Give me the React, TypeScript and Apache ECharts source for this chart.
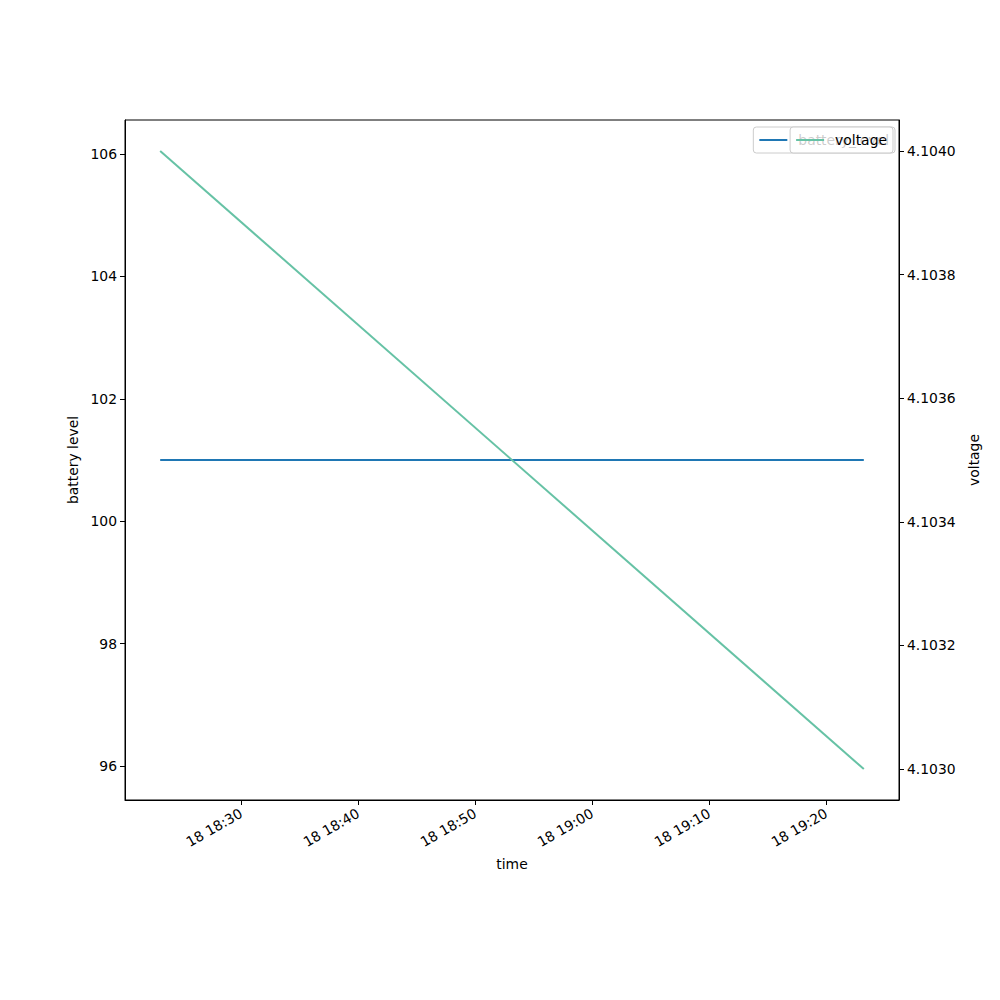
import React, { useEffect, useRef } from "react";
import * as echarts from "echarts";

// sample times (UTC, the day shows as "18")
const timeStamps = ["2024-01-18T18:23:05Z", "2024-01-18T19:23:13Z"];
const batteryLevel = [101, 101];
const voltage = [4.104, 4.103];

const xTickTimes = ["18:30", "18:40", "18:50", "19:00", "19:10", "19:20"];
const batteryTicks = [96, 98, 100, 102, 104, 106];
const voltageTicks = [4.103, 4.1032, 4.1034, 4.1036, 4.1038, 4.104];

const BLUE = "#1f77b4";
const GREEN = "#66c2a5";
const FONT = "DejaVu Sans";

// matplotlib-like 5% padding around the data range
const padRange = (vals: number[]) => {
  let lo = Math.min(...vals);
  let hi = Math.max(...vals);
  if (lo === hi) {
    lo -= Math.abs(lo) * 0.05;
    hi += Math.abs(hi) * 0.05;
  }
  const m = (hi - lo) * 0.05;
  return [lo - m, hi + m];
};

const pad2 = (n: number) => String(n).padStart(2, "0");

const App: React.FC = () => {
  const chartRef = useRef<HTMLDivElement | null>(null);

  useEffect(() => {
    if (!chartRef.current) return;
    const chart = echarts.init(chartRef.current, undefined, { renderer: "svg" });

    const times = timeStamps.map((t) => Date.parse(t));
    const [xMin, xMax] = padRange(times);
    const [bMin, bMax] = padRange(batteryLevel);
    const [vMin, vMax] = padRange(voltage);
    const xTicks = xTickTimes.map((hm) => Date.parse(`2024-01-18T${hm}:00Z`));

    const tickLabel = { color: "#000", fontFamily: FONT, fontSize: 13.9 };
    const axisName = { color: "#000", fontFamily: FONT, fontSize: 13.9 };

    const legendBase = {
      top: 127,
      itemWidth: 28,
      itemHeight: 2,
      padding: [6, 6],
      selectedMode: false,
      borderColor: "#cccccc",
      borderWidth: 1,
      borderRadius: 3,
      textStyle: {
        color: "#000",
        fontFamily: FONT,
        fontSize: 13.9,
        padding: [0, 0, 0, 6],
      },
    };

    const option: echarts.EChartsOption = {
      animation: false,
      backgroundColor: "#fff",
      grid: {
        left: 125,
        right: 101,
        top: 120,
        bottom: 200,
        show: true,
        borderColor: "#000",
        borderWidth: 1,
        backgroundColor: "transparent",
      },
      legend: [
        {
          ...legendBase,
          data: [{ name: "battery_level", icon: "rect" }],
          right: 105,
          backgroundColor: "#fff",
          z: 5,
        },
        {
          ...legendBase,
          data: [{ name: "voltage", icon: "rect" }],
          right: 107,
          backgroundColor: "rgba(255,255,255,0.8)",
          z: 6,
        },
      ] as any,
      xAxis: {
        type: "value",
        min: xMin,
        max: xMax,
        name: "time",
        nameLocation: "middle",
        nameGap: 57,
        nameTextStyle: axisName,
        axisLine: { show: true, lineStyle: { color: "#000", width: 1 } },
        axisTick: {
          show: true,
          length: 5,
          customValues: xTicks,
          lineStyle: { color: "#000" },
        },
        axisLabel: {
          ...tickLabel,
          rotate: 30,
          margin: 12,
          customValues: xTicks,
          formatter: (v: number) => {
            const d = new Date(v);
            return `${pad2(d.getUTCDate())} ${pad2(d.getUTCHours())}:${pad2(d.getUTCMinutes())}`;
          },
        },
        splitLine: { show: false },
      },
      yAxis: [
        {
          type: "value",
          position: "left",
          min: bMin,
          max: bMax,
          name: "battery level",
          nameLocation: "middle",
          nameRotate: 90,
          nameGap: 44,
          nameTextStyle: axisName,
          axisLine: { show: true, lineStyle: { color: "#000", width: 1 } },
          axisTick: {
            show: true,
            length: 5,
            customValues: batteryTicks,
            lineStyle: { color: "#000" },
          },
          axisLabel: {
            ...tickLabel,
            margin: 8,
            customValues: batteryTicks,
            formatter: (v: number) => String(Math.round(v)),
          },
          splitLine: { show: false },
        },
        {
          type: "value",
          position: "right",
          min: vMin,
          max: vMax,
          name: "voltage",
          nameLocation: "middle",
          nameRotate: 90,
          nameGap: 64,
          nameTextStyle: axisName,
          axisLine: { show: true, lineStyle: { color: "#000", width: 1 } },
          axisTick: {
            show: true,
            length: 5,
            customValues: voltageTicks,
            lineStyle: { color: "#000" },
          },
          axisLabel: {
            ...tickLabel,
            margin: 8,
            customValues: voltageTicks,
            formatter: (v: number) => v.toFixed(4),
          },
          splitLine: { show: false },
        },
      ],
      series: [
        {
          name: "battery_level",
          type: "line",
          yAxisIndex: 0,
          data: times.map((t, i) => [t, batteryLevel[i]]),
          symbol: "none",
          color: BLUE,
          lineStyle: { color: BLUE, width: 2 },
        },
        {
          name: "voltage",
          type: "line",
          yAxisIndex: 1,
          data: times.map((t, i) => [t, voltage[i]]),
          symbol: "none",
          color: GREEN,
          lineStyle: { color: GREEN, width: 2 },
        },
      ],
    };

    chart.setOption(option);
    return () => chart.dispose();
  }, []);

  return (
    <div
      ref={chartRef}
      style={{ position: "absolute", left: 0, top: 0, width: 1000, height: 1000 }}
    />
  );
};

export default App;
